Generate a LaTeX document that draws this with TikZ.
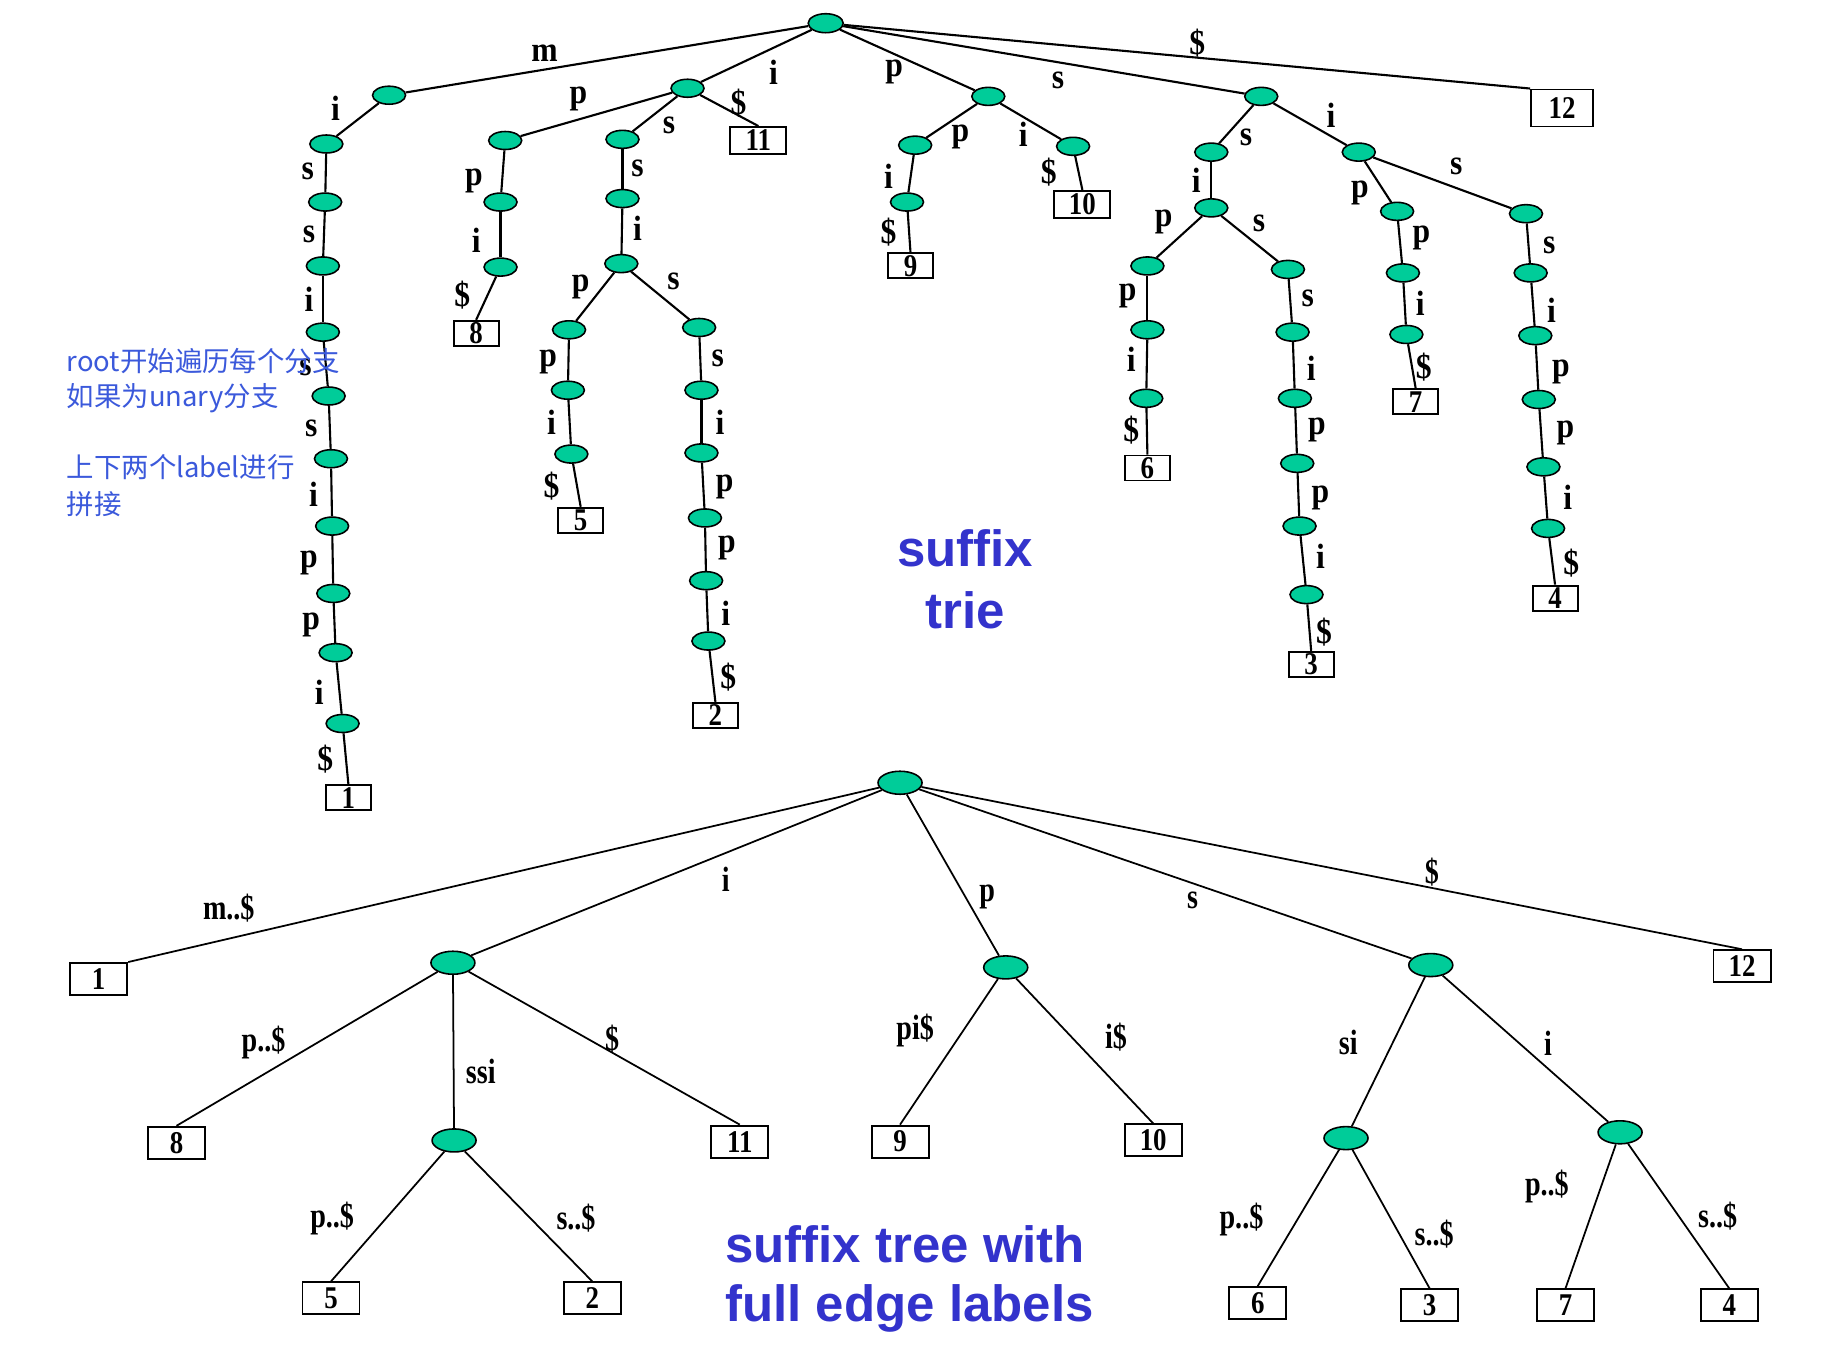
\documentclass[tikz,border=0pt]{standalone}
\usepackage{fontspec}
\setmainfont{Liberation Serif}
\newfontfamily\cjk{Noto Sans CJK SC}
\newfontfamily\titlefont{Liberation Sans}
\newfontfamily\trielbl[FakeStretch=0.9]{Liberation Serif}
\newfontfamily\treelbl[FakeStretch=0.8]{Liberation Serif}
\newfontfamily\leaffont[FakeStretch=0.85]{Liberation Serif}
\usepackage{tikz}
\usetikzlibrary{shapes.geometric}

\definecolor{nodegreen}{RGB}{0,204,153}
\definecolor{titleblue}{RGB}{51,51,204}
\definecolor{noteblue}{RGB}{59,89,219}

\tikzset{
    tnode/.style={ellipse, draw, fill=nodegreen, line width=0.45pt, minimum width=0.33cm, minimum height=0.18cm, inner sep=0pt},
    bnode/.style={tnode, minimum width=0.44cm, minimum height=0.23cm},
    tleaf/.style={rectangle, draw, line width=0.55pt, minimum width=0.45cm, minimum height=0.25cm, inner sep=0pt, font=\leaffont\bfseries\fontsize{9}{9}\selectfont},
    tleafw/.style={tleaf, minimum width=0.56cm, minimum height=0.27cm},
    bleaf/.style={tleaf, minimum width=0.57cm, minimum height=0.32cm},
    tlbl/.style={inner sep=0pt, font=\trielbl\bfseries\fontsize{10}{10}\selectfont},
    blbl/.style={inner sep=0pt, font=\treelbl\bfseries\fontsize{10}{10}\selectfont},
    tedge/.style={line width=0.6pt},
    bedge/.style={line width=0.5pt},
    note/.style={inner sep=0pt, anchor=base west, text=noteblue, font=\cjk\fontsize{7.8}{10}\selectfont},
    title/.style={inner sep=0pt, text=titleblue, font=\titlefont\bfseries\fontsize{14.5}{17}\selectfont}
}

\begin{document}
\begin{tikzpicture}[x=0.011614cm, y=-0.011614cm]
    \useasboundingbox (0,0) rectangle (1568,1172);

    \node[tnode, minimum width=0.35cm, minimum height=0.19cm] (t) at (711,20) {};
    \node[tnode] (tm) at (335,82) {};
    \node[tnode] (tm1) at (281,124) {};
    \node[tnode] (tm2) at (280,174) {};
    \node[tnode] (tm3) at (278,229) {};
    \node[tnode] (tm4) at (278,286) {};
    \node[tnode] (tm5) at (283,341) {};
    \node[tnode] (tm6) at (285,395) {};
    \node[tnode] (tm7) at (286,453) {};
    \node[tnode] (tm8) at (287,511) {};
    \node[tnode] (tm9) at (289,562) {};
    \node[tnode] (tm10) at (295,623) {};
    \node[tleaf] (tb1) at (300,687) {1};

    \node[tnode] (ti) at (592,76) {};
    \node[tnode] (tip) at (435,121) {};
    \node[tnode] (tip1) at (431,174) {};
    \node[tnode] (tip2) at (431,230) {};
    \node[tleaf] (tb8) at (410,287) {8};
    \node[tnode] (tis) at (536,120) {};
    \node[tnode] (tis1) at (536,171) {};
    \node[tnode] (tis2) at (535,227) {};
    \node[tnode] (tisp) at (490,284) {};
    \node[tnode] (tisp1) at (489,336) {};
    \node[tnode] (tisp2) at (492,391) {};
    \node[tleaf] (tb5) at (500,448) {5};
    \node[tnode] (tiss) at (602,282) {};
    \node[tnode] (tiss1) at (604,336) {};
    \node[tnode] (tiss2) at (604,390) {};
    \node[tnode] (tiss3) at (607,446) {};
    \node[tnode] (tiss4) at (608,500) {};
    \node[tnode] (tiss5) at (610,552) {};
    \node[tleaf] (tb2) at (616,616) {2};
    \node[tleafw] (tb11) at (653,121) {11};

    \node[tnode] (tp) at (851,83) {};
    \node[tnode] (tpp) at (788,125) {};
    \node[tnode] (tpp1) at (781,174) {};
    \node[tleaf] (tb9) at (784,229) {9};
    \node[tnode] (tpi) at (924,126) {};
    \node[tleafw] (tb10) at (932,176) {10};

    \node[tnode] (ts) at (1086,83) {};
    \node[tnode] (tss) at (1043,131) {};
    \node[tnode] (tss1) at (1043,179) {};
    \node[tnode] (tssp) at (988,229) {};
    \node[tnode] (tssp1) at (988,284) {};
    \node[tnode] (tssp2) at (987,343) {};
    \node[tleaf] (tb6) at (988,403) {6};
    \node[tnode] (tsss) at (1109,232) {};
    \node[tnode] (tsss1) at (1113,286) {};
    \node[tnode] (tsss2) at (1115,343) {};
    \node[tnode] (tsss3) at (1117,399) {};
    \node[tnode] (tsss4) at (1119,453) {};
    \node[tnode] (tsss5) at (1125,512) {};
    \node[tleaf] (tb3) at (1129,572) {3};
    \node[tnode] (tsi) at (1170,131) {};
    \node[tnode] (tsip) at (1203,182) {};
    \node[tnode] (tsip1) at (1208,235) {};
    \node[tnode] (tsip2) at (1211,288) {};
    \node[tleaf] (tb7) at (1219,346) {7};
    \node[tnode] (tsis) at (1314,184) {};
    \node[tnode] (tsis1) at (1318,235) {};
    \node[tnode] (tsis2) at (1322,289) {};
    \node[tnode] (tsis3) at (1325,344) {};
    \node[tnode] (tsis4) at (1329,402) {};
    \node[tnode] (tsis5) at (1333,455) {};
    \node[tleaf] (tb4) at (1339,515) {4};
    \node[tleaf, minimum width=0.62cm, minimum height=0.37cm] (tb12) at (1345,93) {12};

    \draw[tedge] (t) -- (tm) node[tlbl] at (469,46) {m};
    \draw[tedge] (t) -- (ti) node[tlbl] at (666,62) {i};
    \draw[tedge] (t) -- (tp) node[tlbl] at (770,62) {p};
    \draw[tedge] (t) -- (ts) node[tlbl] at (911,69) {s};
    \draw[tedge] (t) -- (tb12.north west) node[tlbl] at (1031,37) {\$};

    \draw[tedge] (tm) -- (tm1) node[tlbl] at (289,93) {i};
    \draw[tedge] (tm1) -- (tm2) node[tlbl] at (265,148) {s};
    \draw[tedge] (tm2) -- (tm3) node[tlbl] at (266,202) {s};
    \draw[tedge] (tm3) -- (tm4) node[tlbl] at (266,258) {i};
    \draw[tedge] (tm4) -- (tm5) node[tlbl] at (263,316) {s};
    \draw[tedge] (tm5) -- (tm6) node[tlbl] at (268,369) {s};
    \draw[tedge] (tm6) -- (tm7) node[tlbl] at (270,426) {i};
    \draw[tedge] (tm7) -- (tm8) node[tlbl] at (266,485) {p};
    \draw[tedge] (tm8) -- (tm9) node[tlbl] at (268,538) {p};
    \draw[tedge] (tm9) -- (tm10) node[tlbl] at (275,596) {i};
    \draw[tedge] (tm10) -- (tb1.north) node[tlbl] at (280,654) {\$};

    \draw[tedge] (ti) -- (tip) node[tlbl] at (498,85) {p};
    \draw[tedge] (ti) -- (tis) node[tlbl] at (576,108) {s};
    \draw[tedge] (ti) -- (tb11.north) node[tlbl] at (636,89) {\$};
    \draw[tedge] (tip) -- (tip1) node[tlbl] at (408,156) {p};
    \draw[tedge] (tip1) -- (tip2) node[tlbl] at (410,207) {i};
    \draw[tedge] (tip2) -- (tb8.north) node[tlbl] at (398,254) {\$};
    \draw[tedge] (tis) -- (tis1) node[tlbl] at (549,145) {s};
    \draw[tedge] (tis1) -- (tis2) node[tlbl] at (549,197) {i};
    \draw[tedge] (tis2) -- (tisp) node[tlbl] at (500,247) {p};
    \draw[tedge] (tis2) -- (tiss) node[tlbl] at (580,242) {s};
    \draw[tedge] (tisp) -- (tisp1) node[tlbl] at (472,312) {p};
    \draw[tedge] (tisp1) -- (tisp2) node[tlbl] at (475,364) {i};
    \draw[tedge] (tisp2) -- (tb5.north) node[tlbl] at (475,419) {\$};
    \draw[tedge] (tiss) -- (tiss1) node[tlbl] at (618,309) {s};
    \draw[tedge] (tiss1) -- (tiss2) node[tlbl] at (620,364) {i};
    \draw[tedge] (tiss2) -- (tiss3) node[tlbl] at (624,419) {p};
    \draw[tedge] (tiss3) -- (tiss4) node[tlbl] at (626,472) {p};
    \draw[tedge] (tiss4) -- (tiss5) node[tlbl] at (625,528) {i};
    \draw[tedge] (tiss5) -- (tb2.north) node[tlbl] at (627,583) {\$};

    \draw[tedge] (tp) -- (tpp) node[tlbl] at (827,118) {p};
    \draw[tedge] (tp) -- (tpi) node[tlbl] at (881,116) {i};
    \draw[tedge] (tpp) -- (tpp1) node[tlbl] at (765,152) {i};
    \draw[tedge] (tpp1) -- (tb9.north) node[tlbl] at (765,200) {\$};
    \draw[tedge] (tpi) -- (tb10.north) node[tlbl] at (903,148) {\$};

    \draw[tedge] (ts) -- (tss) node[tlbl] at (1073,118) {s};
    \draw[tedge] (ts) -- (tsi) node[tlbl] at (1146,99) {i};
    \draw[tedge] (tss) -- (tss1) node[tlbl] at (1030,155) {i};
    \draw[tedge] (tss1) -- (tssp) node[tlbl] at (1002,191) {p};
    \draw[tedge] (tss1) -- (tsss) node[tlbl] at (1084,192) {s};
    \draw[tedge] (tssp) -- (tssp1) node[tlbl] at (971,255) {p};
    \draw[tedge] (tssp1) -- (tssp2) node[tlbl] at (974,309) {i};
    \draw[tedge] (tssp2) -- (tb6.north) node[tlbl] at (974,370) {\$};
    \draw[tedge] (tsss) -- (tsss1) node[tlbl] at (1126,257) {s};
    \draw[tedge] (tsss1) -- (tsss2) node[tlbl] at (1129,317) {i};
    \draw[tedge] (tsss2) -- (tsss3) node[tlbl] at (1134,370) {p};
    \draw[tedge] (tsss3) -- (tsss4) node[tlbl] at (1137,429) {p};
    \draw[tedge] (tsss4) -- (tsss5) node[tlbl] at (1137,479) {i};
    \draw[tedge] (tsss5) -- (tb3.north) node[tlbl] at (1140,544) {\$};
    \draw[tedge] (tsi) -- (tsip) node[tlbl] at (1171,166) {p};
    \draw[tedge] (tsi) -- (tsis) node[tlbl] at (1254,143) {s};
    \draw[tedge] (tsip) -- (tsip1) node[tlbl] at (1224,205) {p};
    \draw[tedge] (tsip1) -- (tsip2) node[tlbl] at (1223,261) {i};
    \draw[tedge] (tsip2) -- (tb7.north) node[tlbl] at (1226,316) {\$};
    \draw[tedge] (tsis) -- (tsis1) node[tlbl] at (1334,211) {s};
    \draw[tedge] (tsis1) -- (tsis2) node[tlbl] at (1336,267) {i};
    \draw[tedge] (tsis2) -- (tsis3) node[tlbl] at (1344,320) {p};
    \draw[tedge] (tsis3) -- (tsis4) node[tlbl] at (1348,373) {p};
    \draw[tedge] (tsis4) -- (tsis5) node[tlbl] at (1350,428) {i};
    \draw[tedge] (tsis5) -- (tb4.north) node[tlbl] at (1353,485) {\$};

    \node[bnode] (b) at (775,674) {};
    \node[bleaf] (bb1) at (85,843) {1};
    \node[bnode] (bi) at (390,829) {};
    \node[bnode] (bp) at (866,833) {};
    \node[bnode] (bs) at (1232,831) {};
    \node[bleaf] (bb12) at (1500,832) {12};
    \node[bleaf] (bb8) at (152,984) {8};
    \node[bnode] (bissi) at (391,982) {};
    \node[bleaf] (bb11) at (637,983) {11};
    \node[bleaf] (bb5) at (285,1118) {5};
    \node[bleaf] (bb2) at (510,1118) {2};
    \node[bleaf] (bb9) at (775,983) {9};
    \node[bleaf] (bb10) at (993,982) {10};
    \node[bnode] (bssi) at (1159,980) {};
    \node[bnode] (bsi) at (1395,975) {};
    \node[bleaf] (bb6) at (1083,1122) {6};
    \node[bleaf] (bb3) at (1231,1124) {3};
    \node[bleaf] (bb7) at (1348,1124) {7};
    \node[bleaf] (bb4) at (1489,1124) {4};

    \draw[bedge] (b) -- (bb1.north east) node[blbl] at (197,782) {m..\$};
    \draw[bedge] (b) -- (bi) node[blbl] at (625,757) {i};
    \draw[bedge] (b) -- (bp) node[blbl] at (850,772) {p};
    \draw[bedge] (b) -- (bs) node[blbl] at (1027,775) {s};
    \draw[bedge] (b) -- (bb12.north) node[blbl] at (1233,751) {\$};
    \draw[bedge] (bi) -- (bb8.north) node[blbl] at (227,898) {p..\$};
    \draw[bedge] (bi) -- (bissi) node[blbl] at (414,923) {ssi};
    \draw[bedge] (bi) -- (bb11.north) node[blbl] at (527,895) {\$};
    \draw[bedge] (bissi) -- (bb5.north) node[blbl] at (286,1049) {p..\$};
    \draw[bedge] (bissi) -- (bb2.north) node[blbl] at (496,1049) {s..\$};
    \draw[bedge] (bp) -- (bb9.north) node[blbl] at (788,887) {pi\$};
    \draw[bedge] (bp) -- (bb10.north) node[blbl] at (961,893) {i\$};
    \draw[bedge] (bs) -- (bssi) node[blbl] at (1161,898) {si};
    \draw[bedge] (bs) -- (bsi) node[blbl] at (1333,898) {i};
    \draw[bedge] (bssi) -- (bb6.north) node[blbl] at (1069,1050) {p..\$};
    \draw[bedge] (bssi) -- (bb3.north) node[blbl] at (1235,1063) {s..\$};
    \draw[bedge] (bsi) -- (bb7.north) node[blbl] at (1332,1022) {p..\$};
    \draw[bedge] (bsi) -- (bb4.north) node[blbl] at (1479,1047) {s..\$};

    \node[note] (note1) at (57,320) {root开始遍历每个分支};
    \node[note] (note2) at (57,350) {如果为unary分支};
    \node[note] (note3) at (57,411) {上下两个label进行};
    \node[note] (note4) at (57,443) {拼接};

    \node[title, anchor=base] (trie1) at (831,488) {suffix};
    \node[title, anchor=base] (trie2) at (831,541) {trie};
    \node[title, anchor=base west] (tree1) at (624,1087) {suffix tree with};
    \node[title, anchor=base west] (tree2) at (624,1138) {full edge labels};
\end{tikzpicture}
\end{document}
